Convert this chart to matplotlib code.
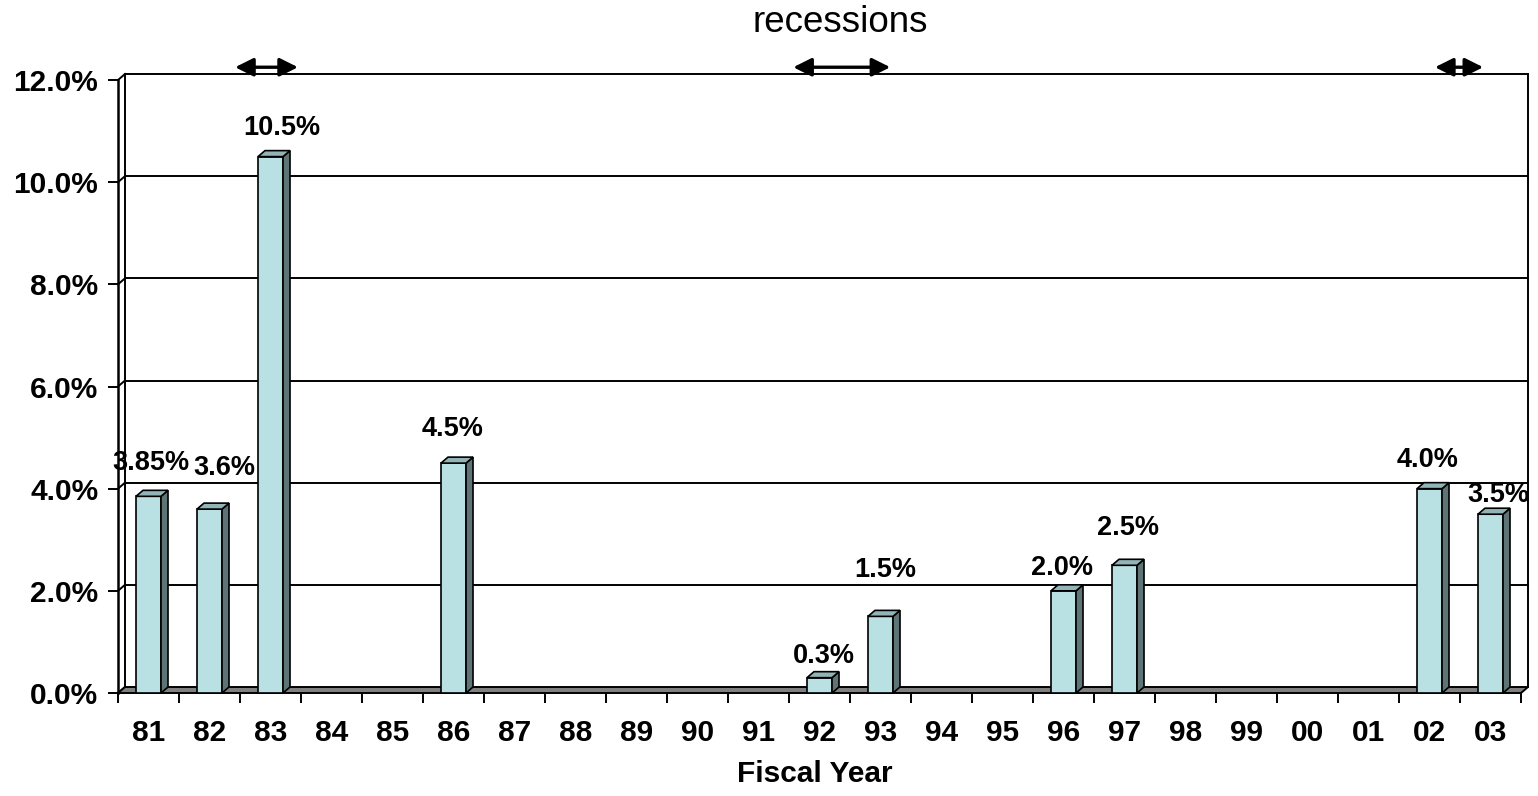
import matplotlib.pyplot as plt
from matplotlib.patches import Polygon

plt.rcParams['font.family'] = ['Liberation Sans', 'DejaVu Sans']

# Fiscal years on the category axis and the value for each (percent)
years = ['81', '82', '83', '84', '85', '86', '87', '88', '89', '90', '91', '92',
         '93', '94', '95', '96', '97', '98', '99', '00', '01', '02', '03']
values = [3.85, 3.6, 10.5, 0, 0, 4.5, 0, 0, 0, 0, 0, 0.3,
          1.5, 0, 0, 2.0, 2.5, 0, 0, 0, 0, 4.0, 3.5]

# recession spans, in category-axis units (0 = left edge of FY81)
recessions = [(1.92, 2.95), (11.07, 12.66), (21.59, 22.38)]

# per-bar label nudges in pixels (dx, height above the bar top)
label_nudge = {0: (2, 33), 1: (15, 41), 2: (11, 29), 5: (-1, 34), 11: (4, 22),
               12: (5, 46), 15: (-1, 23), 16: (3, 37), 21: (-2, 29), 22: (8, 19)}

W, H = 1538, 796
fig = plt.figure(figsize=(W / 100, H / 100), dpi=100, facecolor='white')
ax = fig.add_axes([118 / W, 103 / H, 1403 / W, 613 / H])
n = len(years)
ax.set_xlim(0, n)
ax.set_ylim(0, 12)
for s in ax.spines.values():
    s.set_visible(False)

# depth of the pseudo-3D box, in data units
DX = 7 / 61.0
DY = 6 / 51.1

front = '#B9E0E3'
side = '#5F7474'
top = '#93B4B6'

# back wall gridlines and the left wall edges
for y in range(0, 13, 2):
    if y > 0:
        ax.plot([DX, n + DX], [y + DY, y + DY], color='black', lw=1.4, zorder=1, clip_on=False)
    ax.plot([0, DX], [y, y + DY], color='black', lw=1.4, zorder=1, clip_on=False)
ax.plot([DX, DX], [DY, 12 + DY], color='black', lw=1.4, zorder=1, clip_on=False)
ax.plot([n + DX, n + DX], [DY, 12 + DY], color='black', lw=1.4, zorder=1, clip_on=False)
ax.plot([0, 0], [0, 12], color='black', lw=1.8, zorder=5, clip_on=False)

# floor
ax.add_patch(Polygon([(0, 0), (n, 0), (n + DX, DY), (DX, DY)], closed=True,
                     facecolor='#808080', edgecolor='black', lw=1.4, zorder=2, clip_on=False))

bw = 0.41
for i, v in enumerate(values):
    if v <= 0:
        continue
    x0 = i + 0.5 - bw / 2
    x1 = i + 0.5 + bw / 2
    ax.add_patch(Polygon([(x0, 0), (x1, 0), (x1, v), (x0, v)], closed=True,
                         facecolor=front, edgecolor='black', lw=1.2, zorder=3, clip_on=False))
    ax.add_patch(Polygon([(x1, 0), (x1 + DX, DY), (x1 + DX, v + DY), (x1, v)], closed=True,
                         facecolor=side, edgecolor='black', lw=1.2, zorder=3, clip_on=False))
    ax.add_patch(Polygon([(x0, v), (x1, v), (x1 + DX, v + DY), (x0 + DX, v + DY)], closed=True,
                         facecolor=top, edgecolor='black', lw=1.2, zorder=3, clip_on=False))
    txt = '%.2f' % v
    if txt.endswith('0'):
        txt = txt[:-1]
    dx, dy = label_nudge.get(i, (0, 30))
    ax.annotate(txt + '%', xy=(i + 0.5, v), xytext=(dx * 0.72, dy * 0.72),
                textcoords='offset points', ha='center', va='center',
                fontsize=19.5, fontweight='bold', zorder=6, annotation_clip=False)

# axis ticks
ax.set_yticks(range(0, 13, 2))
ax.set_yticklabels(['%.1f%%' % y for y in range(0, 13, 2)], fontsize=21.5, fontweight='bold')
ax.tick_params(axis='y', direction='out', length=7.2, width=1.4, pad=7)
ax.set_xticks(range(0, n + 1))
ax.set_xticklabels([])
ax.set_xticks([i + 0.5 for i in range(n)], minor=True)
ax.set_xticklabels(years, minor=True, fontsize=21.5, fontweight='bold')
ax.tick_params(axis='x', which='major', direction='out', length=7.2, width=1.4)
ax.tick_params(axis='x', which='minor', length=0, pad=19)

# recession markers above the plot
for a, b in recessions:
    ax.annotate('', xy=(b, 12.25), xytext=(a, 12.25), annotation_clip=False,
                arrowprops=dict(arrowstyle='<|-|>,head_length=1.1,head_width=0.55',
                                mutation_scale=10, lw=2.4, color='black',
                                shrinkA=0, shrinkB=0))

fig.text(840 / W, 1 - 22 / H, 'recessions', ha='center', va='center', fontsize=26.5)
fig.text(815 / W, 1 - 774 / H, 'Fiscal Year', ha='center', va='center',
         fontsize=21.5, fontweight='bold')

fig.savefig('out.png', dpi=100, facecolor='white')
